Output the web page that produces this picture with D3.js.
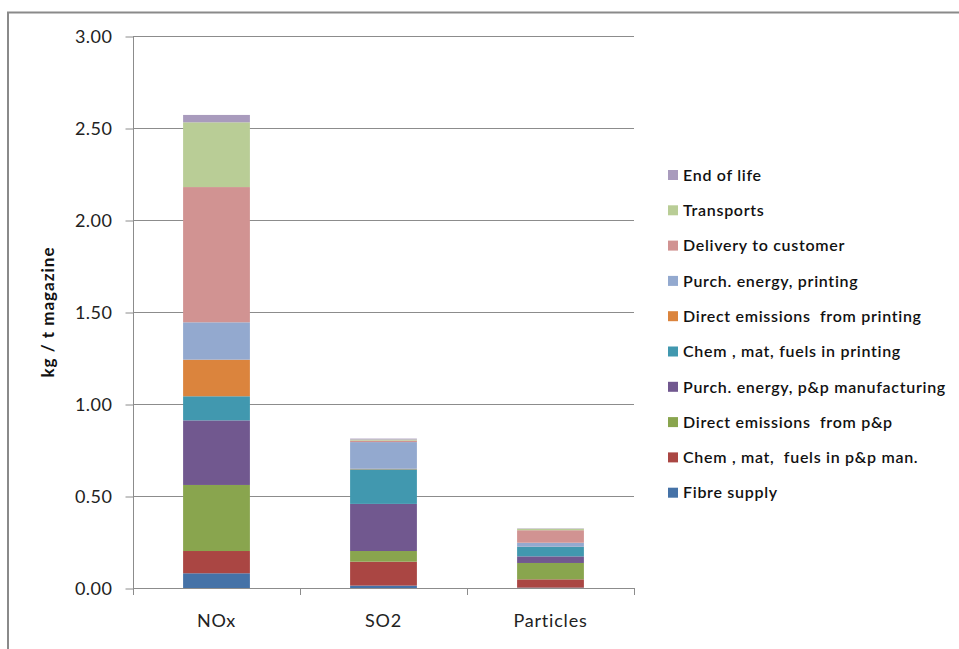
<!DOCTYPE html>
<html>
<head>
<meta charset="utf-8">
<script src="https://cdn.jsdelivr.net/npm/d3@7"></script>
<style>
  html, body { margin: 0; padding: 0; background: #fff; }
  svg { display: block; font-family: Lato, "Open Sans", sans-serif; }
</style>
</head>
<body>
<svg id="chart" width="959" height="649"></svg>
<script>
// Pollutant categories on the x axis
const categories = ["NOx", "SO2", "Particles"];

// Life-cycle stages, bottom of the stack first
const stages = [
  "Fibre supply",
  "Chem, mat, fuels in p&p man.",
  "Direct emissions  from p&p",
  "Purch. energy, p&p manufacturing",
  "Chem, mat, fuels in printing",
  "Direct emissions  from printing",
  "Purch. energy, printing",
  "Delivery to customer",
  "Transports",
  "End of life"
];
const legendLabels = [
  "Fibre supply",
  "Chem , mat,  fuels in p&p man.",
  "Direct emissions  from p&p",
  "Purch. energy, p&p manufacturing",
  "Chem , mat, fuels in printing",
  "Direct emissions  from printing",
  "Purch. energy, printing",
  "Delivery to customer",
  "Transports",
  "End of life"
];
const stageColors = [
  "#4572A7", "#AA4643", "#89A54E", "#71588F", "#4198AF",
  "#DB843D", "#93A9CF", "#D19392", "#B9CD96", "#A99BBD"
];

// kg per tonne of magazine, one array per stage: [NOx, SO2, Particles]
const fibreSupply      = [0.080, 0.013, 0.002];
const chemPpMan        = [0.121, 0.130, 0.045];
const directPp         = [0.359, 0.058, 0.089];
const purchEnergyPp    = [0.351, 0.256, 0.036];
const chemPrinting     = [0.131, 0.188, 0.051];
const directPrinting   = [0.199, 0.003, 0.001];
const purchEnergyPrint = [0.203, 0.145, 0.022];
const delivery         = [0.735, 0.008, 0.068];
const transports       = [0.352, 0.006, 0.008];
const endOfLife        = [0.040, 0.005, 0.002];

const seriesValues = [
  fibreSupply, chemPpMan, directPp, purchEnergyPp, chemPrinting,
  directPrinting, purchEnergyPrint, delivery, transports, endOfLife
];

const yTicks = [0, 0.5, 1.0, 1.5, 2.0, 2.5, 3.0];
const yLabel = "kg / t magazine";

// Build rows for the stack layout
const rows = categories.map((c, i) => {
  const r = { category: c };
  stages.forEach((s, j) => { r[s] = seriesValues[j][i]; });
  return r;
});
const stacked = d3.stack().keys(stages)(rows);

const svg = d3.select("#chart");
const plot = { left: 133, right: 634, top: 36, bottom: 588 };

const x = d3.scaleBand()
  .domain(categories)
  .range([plot.left, plot.right])
  .paddingInner(0.6)
  .paddingOuter(0.3);

const xEdges = d3.scaleBand().domain(categories).range([plot.left, plot.right]).padding(0);

const y = d3.scaleLinear().domain([0, 3]).range([plot.bottom, plot.top]);

// Outer frame (left and top edges)
svg.append("path")
  .attr("d", `M8,649 L8,12.5 L959,12.5`)
  .attr("fill", "none")
  .attr("stroke", "#8a8a8a")
  .attr("stroke-width", 2);

// Horizontal gridlines
svg.append("g")
  .selectAll("line")
  .data(yTicks.filter(t => t > 0))
  .join("line")
  .attr("x1", plot.left).attr("x2", plot.right)
  .attr("y1", d => Math.round(y(d)) + 0.5)
  .attr("y2", d => Math.round(y(d)) + 0.5)
  .attr("stroke", "#8c8c8c")
  .attr("stroke-width", 1);

// Y axis
const yAxis = d3.axisLeft(y)
  .tickValues(yTicks)
  .tickFormat(d3.format(".2f"))
  .tickSize(8)
  .tickPadding(13);
const gy = svg.append("g")
  .attr("transform", `translate(${plot.left + 0.5},0.5)`)
  .call(yAxis);
gy.select(".domain").attr("stroke", "#8c8c8c").attr("d", `M0,${plot.top} V${plot.bottom}`);
gy.selectAll(".tick line").attr("stroke", "#8c8c8c");
gy.selectAll(".tick text")
  .attr("fill", "#222")
  .attr("font-size", 18)
  .attr("letter-spacing", "0.5px")
  .attr("font-family", "Lato, sans-serif")
  .attr("dy", "0.36em");

// Stacked bars
svg.append("g")
  .selectAll("g")
  .data(stacked)
  .join("g")
  .attr("fill", (d, i) => stageColors[i])
  .selectAll("rect")
  .data(d => d)
  .join("rect")
  .attr("x", d => x(d.data.category))
  .attr("width", x.bandwidth())
  .attr("y", d => y(d[1]))
  .attr("height", d => Math.max(0, y(d[0]) - y(d[1])));

// X axis line and category ticks
const xTickPositions = [plot.left, ...categories.map(c => xEdges(c) + xEdges.bandwidth())];
const gx = svg.append("g");
gx.append("line")
  .attr("x1", plot.left).attr("x2", plot.right)
  .attr("y1", plot.bottom + 0.5).attr("y2", plot.bottom + 0.5)
  .attr("stroke", "#8c8c8c");
gx.selectAll("line.tk")
  .data(xTickPositions)
  .join("line")
  .attr("class", "tk")
  .attr("x1", d => Math.round(d) + 0.5).attr("x2", d => Math.round(d) + 0.5)
  .attr("y1", plot.bottom).attr("y2", plot.bottom + 7)
  .attr("stroke", "#8c8c8c");
gx.selectAll("text")
  .data(categories)
  .join("text")
  .attr("x", d => xEdges(d) + xEdges.bandwidth() / 2)
  .attr("y", 627)
  .attr("text-anchor", "middle")
  .attr("fill", "#222")
  .attr("font-size", 18)
  .attr("letter-spacing", "0.8px")
  .text(d => d);

// Y axis title
svg.append("text")
  .attr("transform", `translate(54,312) rotate(-90)`)
  .attr("text-anchor", "middle")
  .attr("font-size", 17)
  .attr("font-weight", "bold")
  .attr("letter-spacing", "1px")
  .attr("fill", "#111")
  .text(yLabel);

// Legend, top entry is the last stage
const legendOrder = d3.range(stages.length).reverse();
const legend = svg.append("g")
  .selectAll("g")
  .data(legendOrder)
  .join("g")
  .attr("transform", (d, i) => `translate(668,${175 + i * 35.3})`);
legend.append("rect")
  .attr("x", 0).attr("y", -5)
  .attr("width", 10).attr("height", 10)
  .attr("fill", d => stageColors[d]);
legend.append("text")
  .attr("x", 15)
  .attr("dy", "0.36em")
  .attr("font-size", 16)
  .attr("font-weight", 600)
  .attr("letter-spacing", "0.7px")
  .attr("fill", "#111")
  .style("white-space", "pre")
  .text(d => legendLabels[d]);
</script>
</body>
</html>
